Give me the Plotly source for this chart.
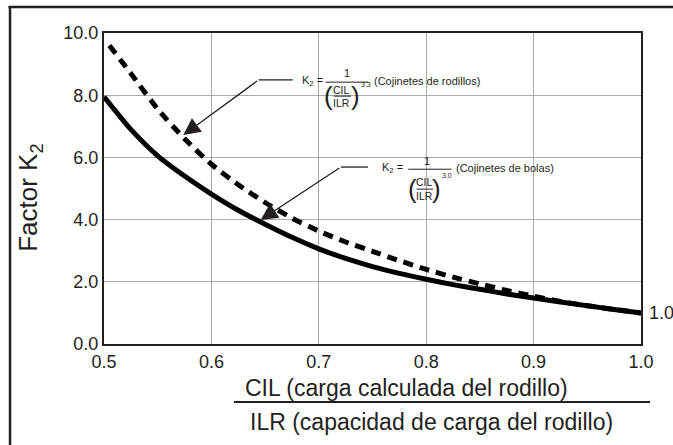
import plotly.graph_objects as go

# ---- data ----
x_ball = [0.50, 0.525, 0.55, 0.575, 0.60, 0.625, 0.65, 0.675, 0.70, 0.725, 0.75,
          0.775, 0.80, 0.825, 0.85, 0.875, 0.90, 0.925, 0.95, 0.975, 1.00]
k2_ball = [7.95, 6.90, 6.05, 5.40, 4.82, 4.30, 3.85, 3.43, 3.06, 2.75, 2.49,
           2.27, 2.08, 1.91, 1.76, 1.61, 1.48, 1.35, 1.23, 1.11, 1.00]

x_roller = [0.505, 0.525, 0.55, 0.575, 0.60, 0.625, 0.65, 0.675, 0.70, 0.725, 0.75,
            0.775, 0.80, 0.825, 0.85, 0.875, 0.90, 0.925, 0.95, 0.975, 1.00]
k2_roller = [9.60, 8.70, 7.55, 6.60, 5.78, 5.12, 4.55, 4.05, 3.63, 3.28, 2.98,
             2.68, 2.40, 2.15, 1.93, 1.72, 1.54, 1.37, 1.23, 1.11, 1.00]

x_ticks = [0.5, 0.6, 0.7, 0.8, 0.9, 1.0]
x_tick_labels = ["0.5", "0.6", "0.7", "0.8", "0.9", "1.0"]
y_ticks = [0, 2, 4, 6, 8, 10]
y_tick_labels = ["0.0", "2.0", "4.0", "6.0", "8.0", "10.0"]

FONT = "Liberation Sans, Arial, Helvetica, sans-serif"
INK = "#231f20"

fig = go.Figure()
fig.add_trace(go.Scatter(x=x_roller, y=k2_roller, mode="lines",
                         line=dict(color="black", width=5, dash="10px,7px", shape="spline", smoothing=0.6),
                         showlegend=False, hoverinfo="skip"))
fig.add_trace(go.Scatter(x=x_ball, y=k2_ball, mode="lines",
                         line=dict(color="black", width=5, shape="spline", smoothing=0.6),
                         showlegend=False, hoverinfo="skip"))

ann = []
shapes = []

def txt(x, y, t, size=11, xanchor="center", yanchor="middle", xref="x", yref="y", **kw):
    ann.append(dict(x=x, y=y, xref=xref, yref=yref, text=t, showarrow=False,
                    xanchor=xanchor, yanchor=yanchor,
                    font=dict(family=FONT, size=size, color=INK), **kw))

def seg(x0, y0, x1, y1, w=1.3, xref="x", yref="y"):
    shapes.append(dict(type="line", x0=x0, y0=y0, x1=x1, y1=y1, xref=xref, yref=yref,
                       line=dict(color=INK, width=w)))

# ---- arrows ----
for head, tail, lead_end in [((0.5738, 6.72), (0.6439, 8.49), 0.6757),
                             ((0.6458, 3.99), (0.7206, 5.69), 0.7458)]:
    ann.append(dict(x=head[0], y=head[1], ax=tail[0], ay=tail[1], xref="x", yref="y",
                    axref="x", ayref="y", showarrow=True, arrowhead=2, arrowsize=2.6,
                    arrowwidth=1.3, arrowcolor=INK, text=""))
    seg(tail[0], tail[1], lead_end, tail[1])

# ---- formula 1 (roller) ----
txt(0.6822, 8.46, "K<sub>2</sub> =", xanchor="left")
txt(0.7262, 8.70, "1")
seg(0.7065, 8.42, 0.7458, 8.42, w=1)
txt(0.7090, 7.98, "(", size=26)
txt(0.7345, 7.98, ")", size=26)
txt(0.7215, 8.18, "CIL", size=10.5)
seg(0.7140, 7.97, 0.7300, 7.97, w=1)
txt(0.7215, 7.75, "ILR", size=10.5)
txt(0.7372, 8.36, "3.3", size=7, xanchor="left")
txt(0.7495, 8.46, "(Cojinetes de rodillos)", xanchor="left")

# ---- formula 2 (ball) ----
txt(0.7570, 5.66, "K<sub>2</sub> =", xanchor="left")
txt(0.8010, 5.90, "1")
seg(0.7832, 5.62, 0.8234, 5.62, w=1)
txt(0.7868, 5.00, "(", size=26)
txt(0.8100, 5.00, ")", size=26)
txt(0.7985, 5.20, "CIL", size=10.5)
seg(0.7910, 4.98, 0.8065, 4.98, w=1)
txt(0.7985, 4.76, "ILR", size=10.5)
txt(0.8128, 5.42, "3.0", size=7, xanchor="left")
txt(0.8262, 5.66, "(Cojinetes de bolas)", xanchor="left")

# ---- "1.0" label at right end ----
txt(1.0, 1.0, "1.0", size=18, xanchor="left", xshift=6)

# ---- axis titles ----
txt(-0.1378, 0.47, "Factor K<sub>2</sub>", size=26, xref="paper", yref="paper", textangle=-90)
txt(0.5642, -0.1415, "CIL (carga calculada del rodillo)", size=23, xref="paper", yref="paper")
seg(0.2421, -0.1865, 1.0168, -0.1865, w=2, xref="paper", yref="paper")
txt(0.6108, -0.2508, "ILR (capacidad de carga del rodillo)", size=23, xref="paper", yref="paper")

# ---- outer frame (left and top) ----
seg(-0.1750, 1.0836, -0.1750, -0.40, w=2.5, xref="paper", yref="paper")
seg(-0.1780, 1.0836, 1.12, 1.0836, w=2.5, xref="paper", yref="paper")

fig.update_layout(
    width=673, height=445,
    margin=dict(l=104, r=32, t=33, b=101),
    paper_bgcolor="white", plot_bgcolor="white",
    font=dict(family=FONT, size=18, color=INK),
    annotations=ann, shapes=shapes,
    xaxis=dict(range=[0.5, 1.0], tickvals=x_ticks, ticktext=x_tick_labels,
               showgrid=True, gridcolor="#aaaaaa", gridwidth=1,
               showline=True, linecolor=INK, linewidth=2, mirror=True,
               ticks="", zeroline=False, tickfont=dict(size=18, color=INK)),
    yaxis=dict(range=[0, 10], tickvals=y_ticks, ticktext=y_tick_labels,
               showgrid=True, gridcolor="#aaaaaa", gridwidth=1,
               showline=True, linecolor=INK, linewidth=2, mirror=True,
               ticks="", zeroline=False, tickfont=dict(size=18, color=INK)),
)

fig.write_html("out.html")
